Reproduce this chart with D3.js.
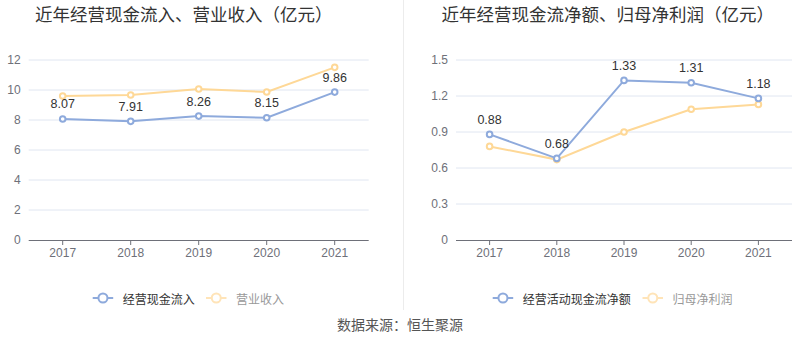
<!DOCTYPE html>
<html><head><meta charset="utf-8">
<script src="https://cdn.jsdelivr.net/npm/d3@7/dist/d3.min.js"></script>
<style>
body{margin:0;background:#fff;}
svg{display:block;font-family:"Liberation Sans",Arial,"Noto Sans CJK SC",sans-serif;}
.cjk{font-family:"Noto Sans CJK SC","Liberation Sans",sans-serif;}
</style></head>
<body>
<svg id="c" width="800" height="358"></svg>
<script>
const years = ["2017","2018","2019","2020","2021"];
const cashInflow = [8.07, 7.91, 8.26, 8.15, 9.86];
const revenue = [9.60, 9.67, 10.07, 9.87, 11.51];
const netCashFlow = [0.88, 0.68, 1.33, 1.31, 1.18];
const netProfit = [0.78, 0.67, 0.90, 1.09, 1.13];
const leftTicks = [0, 2, 4, 6, 8, 10, 12];
const rightTicks = [0, 0.3, 0.6, 0.9, 1.2, 1.5];

const BLUE = "#8eaadc", YELLOW = "#fed897";
const svg = d3.select("#c");

svg.append("line").attr("x1",403.5).attr("x2",403.5).attr("y1",0).attr("y2",310)
  .attr("stroke","#ececec").attr("stroke-width",1);

function panel(cfg){
  const x = d3.scaleBand().domain(years).range(cfg.xr).paddingInner(0).paddingOuter(0);
  const y = d3.scaleLinear().domain([0, cfg.ymax]).range([240, 60]);
  const g = svg.append("g");
  // title
  g.append("text").attr("class","cjk").attr("x",cfg.titleX).attr("y",13)
    .attr("dominant-baseline","central").attr("font-size",17.5).attr("fill","#333")
    .text(cfg.title);
  // grid
  g.selectAll(".grid").data(cfg.ticks.filter(d=>d>0)).join("line")
    .attr("x1",cfg.xr[0]).attr("x2",cfg.xr[1])
    .attr("y1",d=>y(d)).attr("y2",d=>y(d))
    .attr("stroke","#e0e6f1").attr("stroke-width",1);
  // y axis labels
  const ya = d3.axisLeft(y).tickValues(cfg.ticks).tickSize(0).tickPadding(8)
    .tickFormat(cfg.fmt);
  const yg = g.append("g").attr("transform",`translate(${cfg.xr[0]},0)`).call(ya);
  yg.select(".domain").remove();
  yg.selectAll("text").attr("fill","#6e7079").attr("font-size",12)
    .attr("font-family","'Liberation Sans',Arial,sans-serif");
  // x axis
  const xa = d3.axisBottom(x).tickSize(5).tickPadding(3);
  const xg = g.append("g").attr("transform","translate(0,240)").call(xa);
  xg.select(".domain").attr("stroke","#6e7079").attr("d",`M${cfg.xr[0]},0.5H${cfg.xr[1]}`);
  xg.selectAll(".tick line").attr("stroke","#6e7079");
  xg.selectAll("text").attr("fill","#6e7079").attr("font-size",12)
    .attr("font-family","'Liberation Sans',Arial,sans-serif");
  const cx = d => x(d) + x.bandwidth()/2;
  const line = d3.line().x((d,i)=>cx(years[i])).y(d=>y(d));
  [[cfg.s2, YELLOW],[cfg.s1, BLUE]].forEach(([s,col])=>{
    g.append("path").datum(s).attr("d",line).attr("fill","none")
      .attr("stroke",col).attr("stroke-width",2);
    g.selectAll(null).data(s).join("circle")
      .attr("cx",(d,i)=>cx(years[i])).attr("cy",d=>y(d)).attr("r",2.8)
      .attr("fill","#fff").attr("stroke",col).attr("stroke-width",2);
  });
  g.selectAll(".lbl").data(cfg.s1).join("text")
    .attr("x",(d,i)=>cx(years[i])).attr("y",d=>y(d)-14.5)
    .attr("text-anchor","middle").attr("dominant-baseline","central")
    .attr("font-size",12.5).attr("fill","#333").text(d=>cfg.lfmt(d));
  // legend
  const lg = g.append("g");
  cfg.legend.forEach(it=>{
    lg.append("line").attr("x1",it.x).attr("x2",it.x+20.5).attr("y1",298).attr("y2",298)
      .attr("stroke",it.c).attr("stroke-width",2);
    lg.append("circle").attr("cx",it.x+10.25).attr("cy",298).attr("r",4.5)
      .attr("fill","#fff").attr("stroke",it.c).attr("stroke-width",2);
    lg.append("text").attr("class","cjk").attr("x",it.x+30).attr("y",298)
      .attr("dominant-baseline","central").attr("font-size",12).attr("fill",it.tc).text(it.t);
  });
}

panel({xr:[28.7,368.7], ymax:12, ticks:leftTicks, fmt:d3.format("d"), lfmt:d3.format(".2f"),
  s1:cashInflow, s2:revenue, titleX:35, title:"近年经营现金流入、营业收入（亿元）",
  legend:[{x:92.7,c:BLUE,tc:"#333",t:"经营现金流入"},{x:206,c:"#ffe4b8",tc:"#999",t:"营业收入"}]});
panel({xr:[456,792], ymax:1.5, ticks:rightTicks, fmt:d=>d===0?"0":d3.format(".1f")(d), lfmt:d3.format(".2f"),
  s1:netCashFlow, s2:netProfit, titleX:441.5, title:"近年经营现金流净额、归母净利润（亿元）",
  legend:[{x:492.7,c:BLUE,tc:"#333",t:"经营活动现金流净额"},{x:642.5,c:"#ffe4b8",tc:"#999",t:"归母净利润"}]});

svg.append("text").attr("class","cjk").attr("x",400).attr("y",324)
  .attr("text-anchor","middle").attr("dominant-baseline","central")
  .attr("font-size",14).attr("fill","#555").text("数据来源：恒生聚源");
</script>
</body></html>
